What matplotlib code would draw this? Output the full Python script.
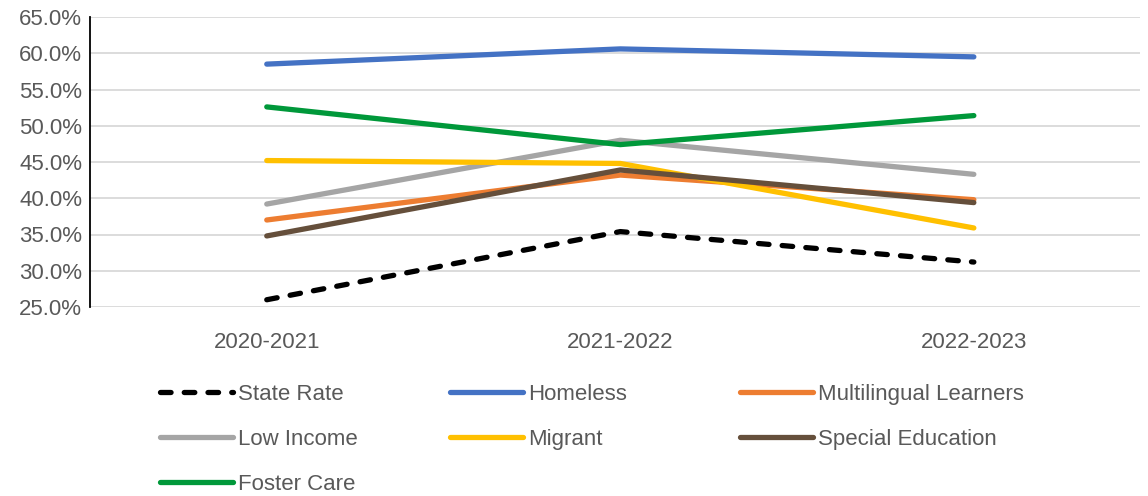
import matplotlib
matplotlib.use("Agg")
import matplotlib.pyplot as plt
from matplotlib.ticker import FuncFormatter

# data
years = ["2020-2021", "2021-2022", "2022-2023"]
state_rate = [26.0, 35.4, 31.2]
homeless = [58.5, 60.6, 59.5]
multilingual = [37.0, 43.2, 39.8]
low_income = [39.2, 48.0, 43.3]
migrant = [45.2, 44.8, 35.9]
special_ed = [34.8, 43.9, 39.4]
foster_care = [52.6, 47.4, 51.4]

plt.rcParams['font.family'] = ['Liberation Sans', 'DejaVu Sans']
fs = 16

fig = plt.figure(figsize=(11.48, 4.96), dpi=100)
ax = fig.add_axes([90 / 1148, 1 - 307 / 496, 1050 / 1148, 290 / 496])

x = range(len(years))
lw = 3.8
lines = {}
lines['State Rate'], = ax.plot(x, state_rate, color='black', lw=lw, linestyle=(0, (2.0, 2.5)),
                               dash_capstyle='round', solid_capstyle='round')
lines['Homeless'], = ax.plot(x, homeless, color='#4472C4', lw=lw, solid_capstyle='round')
lines['Multilingual Learners'], = ax.plot(x, multilingual, color='#ED7D31', lw=lw, solid_capstyle='round')
lines['Low Income'], = ax.plot(x, low_income, color='#A5A5A5', lw=lw, solid_capstyle='round')
lines['Migrant'], = ax.plot(x, migrant, color='#FFC000', lw=lw, solid_capstyle='round')
lines['Special Education'], = ax.plot(x, special_ed, color='#654F3B', lw=lw, solid_capstyle='round')
lines['Foster Care'], = ax.plot(x, foster_care, color='#00983A', lw=lw, solid_capstyle='round')

ax.set_xlim(-0.5, 2.47)
ax.set_ylim(25, 65)
ax.set_yticks(range(25, 66, 5))
ax.yaxis.set_major_formatter(FuncFormatter(lambda v, p: f"{v:.1f}%"))
ax.set_xticks(list(x))
ax.set_xticklabels(years)
ax.tick_params(axis='both', length=0, labelsize=fs, labelcolor='#595959')
ax.tick_params(axis='x', pad=18)
ax.tick_params(axis='y', pad=5.5)
ax.grid(axis='y', color='#D9D9D9', lw=1.3)
ax.set_axisbelow(True)
for s in ['top', 'right', 'bottom']:
    ax.spines[s].set_visible(False)
ax.spines['left'].set_color('black')
ax.spines['left'].set_linewidth(1.3)

# legend laid out as three columns, reading row by row
columns = [(160, ['State Rate', 'Low Income', 'Foster Care']),
           (450, ['Homeless', 'Migrant']),
           (740, ['Multilingual Learners', 'Special Education'])]
for xpix, names in columns:
    fig.legend([lines[k] for k in names], names, loc='upper left',
               bbox_to_anchor=(xpix / 1148, 1 - 384 / 496), frameon=False,
               fontsize=fs, labelcolor='#595959', handlelength=3.3, handletextpad=0.2,
               labelspacing=1.08, borderpad=0, borderaxespad=0)

fig.savefig("out.png", dpi=100)
